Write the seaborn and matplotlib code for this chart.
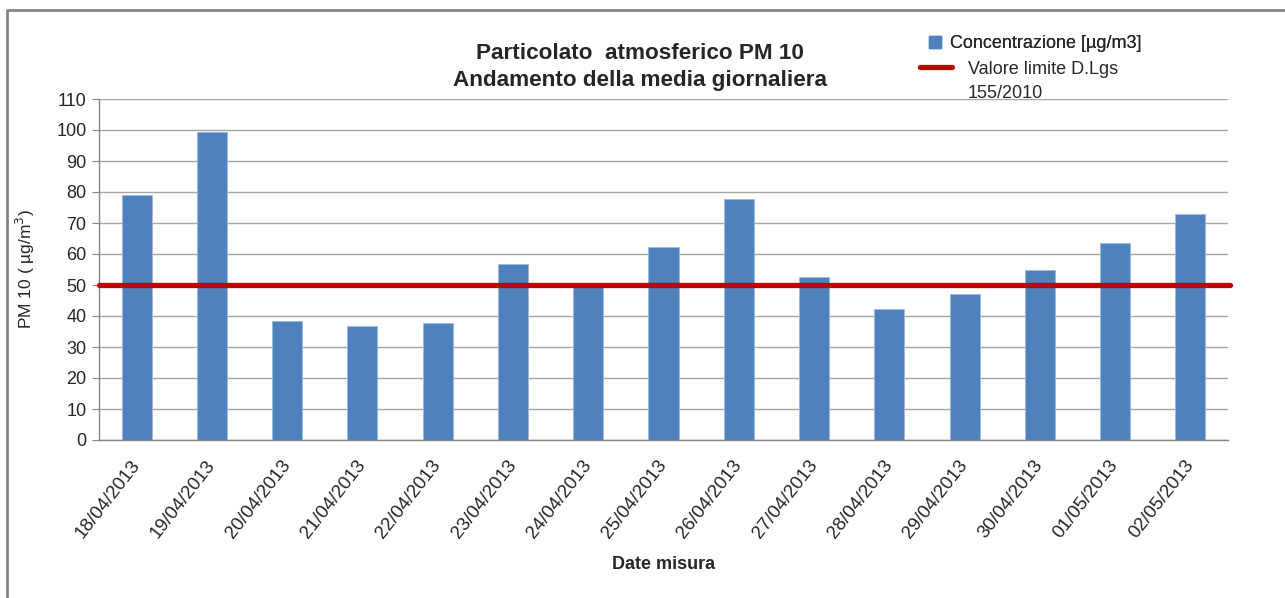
import matplotlib
matplotlib.use("Agg")
import matplotlib.pyplot as plt
import seaborn as sns
import pandas as pd
from matplotlib.lines import Line2D

dates = ["18/04/2013", "19/04/2013", "20/04/2013", "21/04/2013", "22/04/2013",
         "23/04/2013", "24/04/2013", "25/04/2013", "26/04/2013", "27/04/2013",
         "28/04/2013", "29/04/2013", "30/04/2013", "01/05/2013", "02/05/2013"]
concentrazione = [79, 99.4, 38.3, 36.8, 37.6, 56.7, 49.3, 62.4, 77.6, 52.5,
                  42.1, 47.0, 54.8, 63.5, 73.0]
limite = 50
yticks = list(range(0, 111, 10))

df = pd.DataFrame({"Data": dates, "Concentrazione": concentrazione})

sns.set_style("white")
plt.rcParams['font.family'] = ['Liberation Sans', 'DejaVu Sans']

W, H = 1285, 598
fig = plt.figure(figsize=(W / 100, H / 100), dpi=100)
# outer frame (left and top edges)
fig.add_artist(Line2D([7 / W, 7 / W, 1.0], [0.0, 1 - 10 / H, 1 - 10 / H],
                      transform=fig.transFigure, color="#868686", lw=2))

ax = fig.add_axes([99 / W, 1 - 440 / H, (1228 - 99) / W, (440 - 99) / H])

sns.barplot(data=df, x="Data", y="Concentrazione", color="#4F81BD",
            saturation=1, width=0.4, ax=ax, zorder=3)
for p in ax.patches:
    p.set_edgecolor("#9DB9DC")
    p.set_linewidth(0.6)

ax.axhline(limite, color="#C00000", lw=3.8, zorder=4, xmin=0, xmax=1.002, clip_on=False)

ax.set_ylim(0, 110)
ax.set_xlim(-0.5, len(dates) - 0.5)
ax.set_yticks(yticks)
ax.yaxis.grid(True, color="#A6A6A6", lw=1, zorder=0)
ax.set_axisbelow(True)
for s in ["top", "right"]:
    ax.spines[s].set_visible(False)
for s in ["left", "bottom"]:
    ax.spines[s].set_color("#868686")
    ax.spines[s].set_linewidth(1)

ax.set_xticks(range(len(dates)))
ax.set_xticklabels(dates, rotation=52, ha="right", va="center",
                   rotation_mode="anchor", fontsize=13.5)
ax.tick_params(axis="x", length=0, pad=16)
ax.set_xticks([i - 0.5 for i in range(len(dates) + 1)], minor=True)
ax.tick_params(axis="x", which="minor", length=5, color="#868686", direction="out")
ax.tick_params(axis="y", length=5, color="#868686", direction="out", labelsize=13,
               left=True, pad=4)

ax.set_xlabel("Date misura", fontsize=13, fontweight="bold", labelpad=10)
ax.set_ylabel("PM 10 ( µg/m$^3$)", fontsize=12.5, labelpad=14)

fig.text(0.498, 1 - 67 / H, "Particolato  atmosferico PM 10\nAndamento della media giornaliera",
         ha="center", va="center", fontsize=16.2, fontweight="bold", linespacing=1.4)

leg1 = fig.legend([Line2D([], [], marker="s", linestyle="none", color="#4F81BD", markersize=9)],
                  ["Concentrazione [µg/m3]"], loc="center left",
                  bbox_to_anchor=(926 / W, 1 - 44 / H), frameon=False, fontsize=13,
                  handlelength=1.0, handletextpad=0.35, borderaxespad=0, borderpad=0)
fig.add_artist(leg1)
leg2 = fig.legend([Line2D([0], [0], color="#C00000", lw=3.8)],
                  ["Valore limite D.Lgs"], loc="center left",
                  bbox_to_anchor=(920 / W, 1 - 69 / H), frameon=False, fontsize=13,
                  handlelength=1.78, handletextpad=0.9, borderaxespad=0, borderpad=0)
fig.text(968 / W, 1 - 93 / H, "155/2010", ha="left", va="center", fontsize=13)

fig.savefig("out.png", dpi=100)
